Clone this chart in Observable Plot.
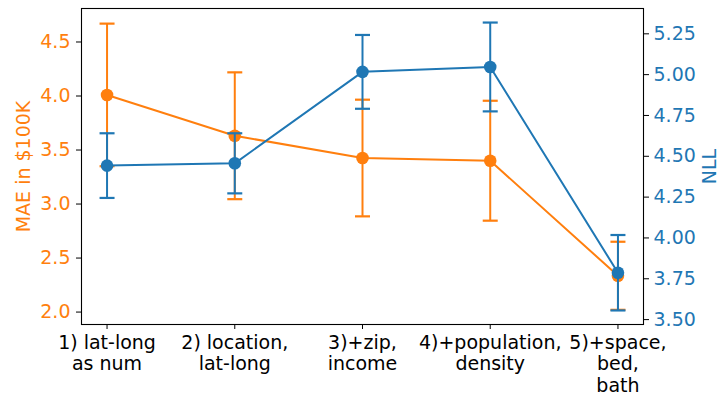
<!DOCTYPE html>
<html><head><meta charset="utf-8">
<script src="https://cdn.jsdelivr.net/npm/d3@7"></script>
<script src="https://cdn.jsdelivr.net/npm/@observablehq/plot@0.6"></script>
<style>html,body{margin:0;padding:0;background:#fff}</style>
</head><body><div id="chart"></div>
<script>
const categories = ["1) lat-long\nas num", "2) location,\nlat-long", "3)+zip,\nincome", "4)+population,\ndensity", "5)+space,\nbed,\nbath"];
const maeMean = [4.01, 3.632, 3.426, 3.401, 2.336];
const maeErr  = [0.66, 0.587, 0.54, 0.555, 0.315];
const nllMean = [4.443, 4.457, 5.017, 5.047, 3.787];
const nllErr  = [0.198, 0.184, 0.226, 0.272, 0.231];
const maeTicks = [2.0, 2.5, 3.0, 3.5, 4.0, 4.5];
const nllTicks = [3.5, 3.75, 4.0, 4.25, 4.5, 4.75, 5.0, 5.25];
const maeLabel = "MAE in $100K";
const nllLabel = "NLL";

const ORANGE = "#ff7f0e", BLUE = "#1f77b4";
const FS = 19;
const L0 = 1.885, L1 = 4.81;   // left axis domain
const R0 = 3.47, R1 = 5.405;   // right axis domain
const f = r => L0 + (r - R0) * (L1 - L0) / (R1 - R0);
const finv = l => R0 + (l - L0) * (R1 - R0) / (L1 - L0);

const rows = categories.map((c, i) => ({
  i,
  mae: maeMean[i], maeLo: maeMean[i] - maeErr[i], maeHi: maeMean[i] + maeErr[i],
  nll: f(nllMean[i]), nllLo: f(nllMean[i] - nllErr[i]), nllHi: f(nllMean[i] + nllErr[i])
}));

const cap = {draw(ctx, size) { const r = Math.sqrt(size / Math.PI); ctx.moveTo(-r, 0); ctx.lineTo(r, 0); }};

function series(key, color) {
  return [
    Plot.line(rows, {x: "i", y: key, stroke: color, strokeWidth: 2}),
    Plot.ruleX(rows, {x: "i", y1: key + "Lo", y2: key + "Hi", stroke: color, strokeWidth: 2}),
    Plot.dot(rows, {x: "i", y: key + "Hi", symbol: cap, r: 7.5, stroke: color, strokeWidth: 2.2, fill: "none"}),
    Plot.dot(rows, {x: "i", y: key + "Lo", symbol: cap, r: 7.5, stroke: color, strokeWidth: 2.2, fill: "none"}),
    Plot.dot(rows, {x: "i", y: key, r: 6.3, fill: color, stroke: "none"})
  ];
}

const chart = Plot.plot({
  width: 719, height: 396,
  marginTop: 8, marginBottom: 72, marginLeft: 81, marginRight: 76,
  x: {domain: [-0.2, 4.2], axis: null},
  y: {domain: [L0, L1], axis: null},
  style: {fontFamily: "DejaVu Sans", fontSize: FS + "px", background: "white", overflow: "visible"},
  marks: [
    ...series("mae", ORANGE),
    ...series("nll", BLUE),
    Plot.axisX(d3.range(categories.length), {tickFormat: i => categories[i], tickSize: 5, tickPadding: 4, fontSize: FS, lineHeight: 1.13, fill: "black", stroke: "black", label: null}),
    Plot.axisY(maeTicks, {anchor: "left", tickSize: 5, tickPadding: 6, tickFormat: d3.format(".1f"), fontSize: FS, fill: ORANGE, stroke: "black", label: null}),
    Plot.axisY(nllTicks.map(f), {anchor: "right", tickSize: 5, tickPadding: 5, tickFormat: v => finv(v).toFixed(2), fontSize: FS, fill: BLUE, stroke: "black", label: null}),
    Plot.text([maeLabel], {frameAnchor: "left", dx: -58, rotate: -90, fill: ORANGE, fontSize: FS, textAnchor: "middle"}),
    Plot.text([nllLabel], {frameAnchor: "right", dx: 66, rotate: -90, fill: BLUE, fontSize: FS, textAnchor: "middle"}),
    Plot.frame({stroke: "black", strokeWidth: 1.1})
  ]
});
document.getElementById("chart").appendChild(chart);
</script>
</body></html>
